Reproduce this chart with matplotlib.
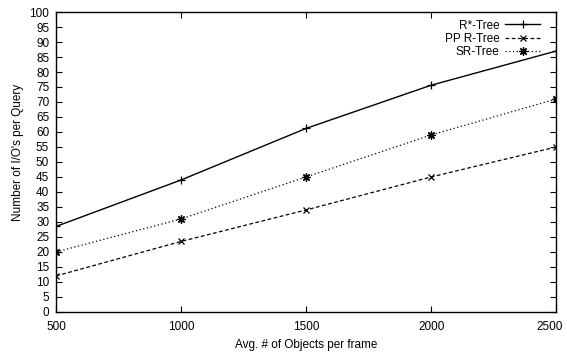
import matplotlib
matplotlib.use('Agg')
import matplotlib.pyplot as plt
from matplotlib.transforms import ScaledTranslation

plt.rcParams['font.family'] = ['Liberation Sans', 'DejaVu Sans']

objects = [500, 1000, 1500, 2000, 2500]
rstar = [28.5, 44, 61.2, 75.6, 87]
pp_rtree = [12, 23.5, 34, 45, 55]
sr_tree = [20, 31, 45, 59, 71]

fig = plt.figure(figsize=(5.67, 3.54), dpi=100)
ax = fig.add_axes([0.099, 0.119, 0.882, 0.847])

ax.plot(objects, rstar, color='black', lw=1.0, ls='-', marker='+', ms=6, mew=0.9, label='R*-Tree')
ax.plot(objects, pp_rtree, color='black', lw=0.9, ls=(0, (3, 2)), marker='x', ms=5, mew=0.9, label='PP R-Tree')
ax.plot(objects, sr_tree, color='black', lw=0.9, ls=(0, (1, 2)), marker=(8, 2, 0), ms=6, mew=0.9, label='SR-Tree')

ax.set_xlim(500, 2500)
ax.set_ylim(0, 100)
ax.set_xticks(objects)
ax.set_yticks(range(0, 101, 5))
ax.tick_params(direction='in', top=True, right=True, length=4, width=0.8, labelsize=8.5)
ax.tick_params(axis='x', pad=6.5)
ax.tick_params(axis='y', pad=5)
for s in ax.spines.values():
    s.set_linewidth(1.0)

# last x label nudged left so it stays on the canvas
lab = ax.get_xticklabels()[-1]
lab.set_transform(lab.get_transform() + ScaledTranslation(-5 / 72, 0, fig.dpi_scale_trans))

ax.set_xlabel('Avg. # of Objects per frame', fontsize=8.5)
ax.set_ylabel("Number of I/O's per Query", fontsize=8.5)
ax.xaxis.set_label_coords(0.5, -0.09)
ax.yaxis.set_label_coords(-0.064, 0.533)

ax.legend(loc='upper right', bbox_to_anchor=(0.968, 0.975), frameon=False, markerfirst=False,
          fontsize=8.5, handlelength=3.0, labelspacing=0.12, borderaxespad=0, borderpad=0,
          handletextpad=0.45)

fig.savefig('out.png', dpi=100)
